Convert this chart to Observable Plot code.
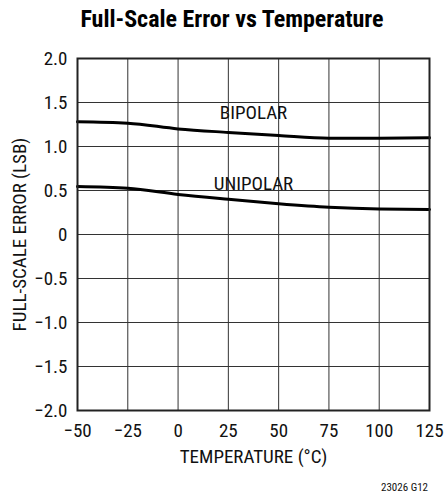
<!DOCTYPE html>
<html>
<head>
<meta charset="utf-8">
<script src="https://cdn.jsdelivr.net/npm/d3@7"></script>
<script src="https://cdn.jsdelivr.net/npm/@observablehq/plot@0.6"></script>
<style>
  html, body { margin: 0; padding: 0; background: #fff; }
  body { width: 445px; height: 497px; position: relative; overflow: hidden;
         font-family: "Roboto Condensed", "Roboto", sans-serif; font-stretch: condensed; color: #111; }
  #title { position: absolute; left: 0; top: 7px; width: 464px; text-align: center;
           font-weight: bold; font-size: 24px; line-height: 24px; color: #000; }
  #chart { position: absolute; left: 0; top: 40px; }
  #caption { position: absolute; right: 17px; top: 482px; font-size: 11px; line-height: 11px; }
</style>
</head>
<body>
<div id="title">Full-Scale Error vs Temperature</div>
<div id="chart"></div>
<div id="caption">23026 G12</div>
<script>
const temps = [-50, -25, 0, 25, 50, 75, 100, 125];
const bipolar = [1.28, 1.265, 1.20, 1.16, 1.125, 1.095, 1.095, 1.10];
const unipolar = [0.545, 0.525, 0.455, 0.40, 0.35, 0.31, 0.29, 0.285];
const xTicks = [-50, -25, 0, 25, 50, 75, 100, 125];
const yTicks = [-2, -1.5, -1, -0.5, 0, 0.5, 1, 1.5, 2];
const seriesLabels = [
  {name: "BIPOLAR", t: 37.5, v: 1.386},
  {name: "UNIPOLAR", t: 37.5, v: 0.58}
];
const xTitle = "TEMPERATURE (°C)";
const yTitle = "FULL-SCALE ERROR (LSB)";

const bip = temps.map((t, i) => ({t, v: bipolar[i]}));
const uni = temps.map((t, i) => ({t, v: unipolar[i]}));
const yfmt = d => d === 0 ? "0" : d3.format(".1f")(d);
const FONT = '"Roboto Condensed", "Roboto", sans-serif';

const plot = Plot.plot({
  width: 445,
  height: 430,
  marginTop: 18,
  marginBottom: 60,
  marginLeft: 77,
  marginRight: 16,
  style: {fontFamily: FONT, fontStretch: "condensed", fontSize: "19px", color: "#111", background: "#fff", overflow: "visible"},
  x: {domain: [-50, 125], ticks: xTicks, label: null},
  y: {domain: [-2, 2], ticks: yTicks, label: null},
  marks: [
    Plot.gridX(xTicks, {stroke: "#333", strokeOpacity: 1, strokeWidth: 1}),
    Plot.gridY(yTicks, {stroke: "#333", strokeOpacity: 1, strokeWidth: 1}),
    Plot.text(seriesLabels, {x: "t", y: "v", text: "name", ariaLabel: "series-label", fill: "#111", fontSize: 19}),
    Plot.line(bip, {x: "t", y: "v", stroke: "#000", strokeWidth: 3, curve: "monotone-x"}),
    Plot.line(uni, {x: "t", y: "v", stroke: "#000", strokeWidth: 3, curve: "monotone-x"}),
    Plot.frame({stroke: "#222", strokeWidth: 2}),
    Plot.axisX(xTicks, {tickSize: 0, tickPadding: 13, fontSize: 19, label: null}),
    Plot.axisY(yTicks, {tickSize: 0, tickPadding: 10, fontSize: 19, tickFormat: yfmt, label: null}),
    Plot.text([xTitle], {frameAnchor: "bottom", lineAnchor: "middle", textAnchor: "middle", dy: 46, text: d => d, fontSize: 19}),
    Plot.text([yTitle], {frameAnchor: "left", lineAnchor: "middle", textAnchor: "middle", dx: -58, rotate: -90, text: d => d, fontSize: 19})
  ]
});
document.getElementById("chart").appendChild(plot);

// white boxes behind series labels (from the rendered text bounding boxes)
const g = plot.querySelector('g[aria-label="series-label"]');
if (g) {
  g.querySelectorAll("text").forEach(t => {
    const b = t.getBBox();
    const r = document.createElementNS("http://www.w3.org/2000/svg", "rect");
    r.setAttribute("x", b.x - 3);
    r.setAttribute("y", b.y - 3);
    r.setAttribute("width", b.width + 6);
    r.setAttribute("height", b.height + 6);
    r.setAttribute("fill", "#fff");
    const tr = t.getAttribute("transform");
    if (tr) r.setAttribute("transform", tr);
    t.parentNode.insertBefore(r, t);
  });
}
</script>
</body>
</html>
